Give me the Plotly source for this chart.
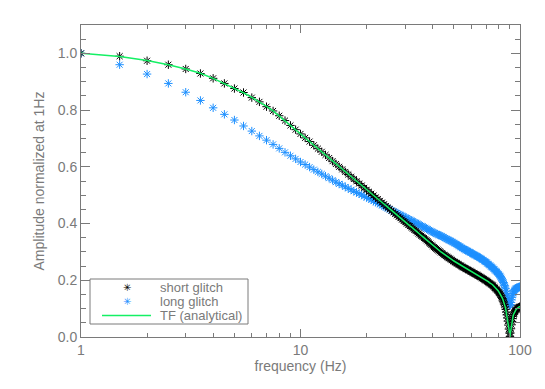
import plotly.graph_objects as go

# ---------------- data ----------------
freq_hz = [
    1.0, 1.5, 2.0, 2.5, 3.0, 3.5, 4.0, 4.5, 5.0, 5.5, 6.0, 6.5, 7.0, 7.5,
    8.0, 8.5, 9.0, 9.5, 10.0, 10.5, 11.0, 11.5, 12.0, 12.5, 13.0, 13.5, 14.0, 14.5,
    15.0, 15.5, 16.0, 16.5, 17.0, 17.5, 18.0, 18.5, 19.0, 19.5, 20.0, 20.5, 21.0, 21.5,
    22.0, 22.5, 23.0, 23.5, 24.0, 24.5, 25.0, 25.5, 26.0, 26.5, 27.0, 27.5, 28.0, 28.5,
    29.0, 29.5, 30.0, 30.5, 31.0, 31.5, 32.0, 32.5, 33.0, 33.5, 34.0, 34.5, 35.0,
    35.5, 36.0, 36.5, 37.0, 37.5, 38.0, 38.5, 39.0, 39.5, 40.0,
    40.5, 41.0, 41.5, 42.0, 42.5, 43.0, 43.5, 44.0, 44.5, 45.0,
    45.5, 46.0, 46.5, 47.0, 47.5, 48.0, 48.5, 49.0, 49.5, 50.0,
    50.5, 51.0, 51.5, 52.0, 52.5, 53.0, 53.5, 54.0, 54.5, 55.0,
    55.5, 56.0, 56.5, 57.0, 57.5, 58.0, 58.5, 59.0, 59.5, 60.0,
    60.5, 61.0, 61.5, 62.0, 62.5, 63.0, 63.5, 64.0, 64.5, 65.0,
    65.5, 66.0, 66.5, 67.0, 67.5, 68.0, 68.5, 69.0, 69.5, 70.0,
    70.5, 71.0, 71.5, 72.0, 72.5, 73.0, 73.5, 74.0, 74.5, 75.0,
    75.5, 76.0, 76.5, 77.0, 77.5, 78.0, 78.5, 79.0, 79.5, 80.0,
    80.5, 81.0, 81.5, 82.0, 82.5, 83.0, 83.5, 84.0, 84.5, 85.0,
    85.5, 86.0, 86.5, 87.0, 87.5, 88.0, 88.5, 89.0, 89.5, 90.0,
    90.5, 91.0, 91.5, 92.0, 92.5, 93.0, 93.5, 94.0, 94.5, 95.0,
    95.5, 96.0, 96.5, 97.0, 97.5, 98.0, 98.5, 99.0, 99.5, 100.0,
]

short_glitch = [
    1.000, 0.990, 0.974, 0.960, 0.945, 0.929, 0.912, 0.894, 0.876, 0.862, 0.844, 0.829, 0.812, 0.797,
    0.780, 0.763, 0.746, 0.731, 0.716, 0.702, 0.689, 0.676, 0.664, 0.653, 0.642, 0.631, 0.620, 0.610,
    0.600, 0.591, 0.582, 0.573, 0.565, 0.557, 0.549, 0.541, 0.534, 0.526, 0.519, 0.512, 0.505, 0.499,
    0.492, 0.486, 0.480, 0.474, 0.468, 0.462, 0.456, 0.451, 0.445, 0.440, 0.434, 0.429, 0.424, 0.419,
    0.414, 0.409, 0.405, 0.400, 0.395, 0.391, 0.387, 0.382, 0.378, 0.374, 0.369, 0.365, 0.361,
    0.357, 0.353, 0.349, 0.345, 0.341, 0.337, 0.333, 0.329, 0.325, 0.321,
    0.317, 0.314, 0.311, 0.308, 0.305, 0.302, 0.299, 0.296, 0.293, 0.290,
    0.288, 0.285, 0.283, 0.280, 0.278, 0.276, 0.273, 0.271, 0.268, 0.266,
    0.264, 0.262, 0.260, 0.258, 0.256, 0.254, 0.252, 0.250, 0.248, 0.246,
    0.244, 0.243, 0.241, 0.240, 0.238, 0.236, 0.235, 0.233, 0.232, 0.230,
    0.228, 0.227, 0.225, 0.224, 0.222, 0.221, 0.219, 0.218, 0.216, 0.215,
    0.213, 0.212, 0.210, 0.208, 0.207, 0.205, 0.204, 0.202, 0.200, 0.199,
    0.197, 0.196, 0.194, 0.192, 0.190, 0.189, 0.187, 0.185, 0.184, 0.182,
    0.180, 0.177, 0.175, 0.173, 0.170, 0.168, 0.166, 0.163, 0.161, 0.158,
    0.155, 0.152, 0.148, 0.145, 0.140, 0.136, 0.131, 0.126, 0.120, 0.114,
    0.106, 0.098, 0.088, 0.078, 0.067, 0.056, 0.042, 0.028, 0.014, 0.002,
    0.014, 0.029, 0.043, 0.055, 0.065, 0.073, 0.079, 0.084, 0.088, 0.091,
    0.094, 0.096, 0.098, 0.100, 0.102, 0.103, 0.104, 0.105, 0.106, 0.107,
]

long_glitch = [
    1.000, 0.960, 0.927, 0.894, 0.863, 0.834, 0.808, 0.785, 0.765, 0.744, 0.726, 0.709, 0.694, 0.679,
    0.665, 0.651, 0.639, 0.628, 0.617, 0.608, 0.599, 0.590, 0.582, 0.575, 0.567, 0.560, 0.553, 0.546,
    0.540, 0.535, 0.529, 0.524, 0.519, 0.514, 0.510, 0.505, 0.501, 0.496, 0.492, 0.488, 0.484, 0.479,
    0.475, 0.472, 0.468, 0.464, 0.460, 0.457, 0.453, 0.450, 0.446, 0.443, 0.440, 0.437, 0.434, 0.431,
    0.428, 0.425, 0.422, 0.419, 0.416, 0.414, 0.411, 0.408, 0.405, 0.403, 0.400, 0.398, 0.395,
    0.392, 0.390, 0.387, 0.385, 0.382, 0.380, 0.377, 0.375, 0.372, 0.370,
    0.368, 0.366, 0.364, 0.362, 0.360, 0.359, 0.357, 0.355, 0.353, 0.351,
    0.349, 0.347, 0.345, 0.343, 0.341, 0.340, 0.338, 0.336, 0.334, 0.332,
    0.330, 0.328, 0.326, 0.324, 0.322, 0.320, 0.318, 0.316, 0.314, 0.312,
    0.310, 0.309, 0.307, 0.306, 0.304, 0.302, 0.301, 0.299, 0.298, 0.296,
    0.294, 0.293, 0.291, 0.290, 0.288, 0.287, 0.285, 0.284, 0.282, 0.281,
    0.279, 0.278, 0.276, 0.274, 0.272, 0.271, 0.269, 0.267, 0.266, 0.264,
    0.262, 0.260, 0.258, 0.256, 0.254, 0.252, 0.250, 0.248, 0.246, 0.244,
    0.242, 0.240, 0.238, 0.235, 0.233, 0.231, 0.229, 0.226, 0.224, 0.222,
    0.219, 0.216, 0.213, 0.209, 0.205, 0.201, 0.197, 0.192, 0.187, 0.182,
    0.176, 0.170, 0.162, 0.154, 0.145, 0.136, 0.127, 0.119, 0.113, 0.110,
    0.114, 0.122, 0.131, 0.140, 0.148, 0.154, 0.159, 0.163, 0.166, 0.168,
    0.170, 0.171, 0.172, 0.173, 0.174, 0.175, 0.176, 0.176, 0.177, 0.177,
]

tf_analytical = [
    1.000, 0.989, 0.975, 0.960, 0.945, 0.930, 0.912, 0.894, 0.877, 0.861, 0.845, 0.829, 0.813, 0.797,
    0.779, 0.762, 0.746, 0.730, 0.716, 0.702, 0.689, 0.676, 0.664, 0.653, 0.642, 0.631, 0.621, 0.611,
    0.601, 0.592, 0.583, 0.574, 0.566, 0.558, 0.550, 0.542, 0.535, 0.527, 0.520, 0.513, 0.506, 0.500,
    0.493, 0.487, 0.481, 0.475, 0.469, 0.463, 0.457, 0.452, 0.446, 0.441, 0.435, 0.430, 0.425, 0.420,
    0.415, 0.410, 0.406, 0.401, 0.396, 0.392, 0.388, 0.383, 0.379, 0.375, 0.370, 0.366, 0.362,
    0.358, 0.354, 0.350, 0.346, 0.342, 0.338, 0.334, 0.330, 0.326, 0.322,
    0.319, 0.316, 0.313, 0.310, 0.307, 0.304, 0.301, 0.298, 0.295, 0.292,
    0.290, 0.287, 0.285, 0.282, 0.280, 0.278, 0.275, 0.273, 0.270, 0.268,
    0.266, 0.264, 0.262, 0.260, 0.258, 0.256, 0.254, 0.252, 0.250, 0.248,
    0.246, 0.245, 0.243, 0.242, 0.240, 0.238, 0.237, 0.235, 0.234, 0.232,
    0.230, 0.229, 0.227, 0.226, 0.224, 0.223, 0.221, 0.220, 0.218, 0.217,
    0.215, 0.214, 0.212, 0.210, 0.209, 0.207, 0.206, 0.204, 0.202, 0.201,
    0.199, 0.198, 0.196, 0.194, 0.192, 0.191, 0.189, 0.187, 0.186, 0.184,
    0.182, 0.179, 0.177, 0.175, 0.172, 0.170, 0.168, 0.165, 0.163, 0.160,
    0.157, 0.154, 0.150, 0.147, 0.142, 0.138, 0.133, 0.128, 0.122, 0.116,
    0.108, 0.100, 0.090, 0.080, 0.069, 0.058, 0.044, 0.030, 0.015, 0.000,
    0.015, 0.030, 0.044, 0.056, 0.066, 0.074, 0.080, 0.085, 0.089, 0.092,
    0.095, 0.097, 0.099, 0.101, 0.103, 0.104, 0.105, 0.106, 0.107, 0.108,
]

series_names = ["short glitch", "long glitch", "TF (analytical)"]
x_tick_vals = [1, 10, 100]
x_tick_text = ["1", "10", "100"]
x_minor_vals = [2, 3, 4, 5, 6, 7, 8, 9, 20, 30, 40, 50, 60, 70, 80, 90]
y_tick_vals = [0.0, 0.2, 0.4, 0.6, 0.8, 1.0]

# ---------------- styling ----------------
GRAY = "#7a7a7a"
BLACK = "#000000"
BLUE = "#1e90ff"
GREEN = "#14f064"
FONT = "Liberation Sans"

fig = go.Figure()

fig.add_trace(go.Scatter(
    x=freq_hz, y=long_glitch, mode="markers", name=series_names[1],
    marker=dict(symbol="asterisk-open", size=7, color=BLUE,
                line=dict(color=BLUE, width=1)),
    showlegend=False,
))
fig.add_trace(go.Scatter(
    x=freq_hz, y=short_glitch, mode="markers", name=series_names[0],
    marker=dict(symbol="asterisk-open", size=7, color=BLACK,
                line=dict(color=BLACK, width=1)),
    showlegend=False,
))
fig.add_trace(go.Scatter(
    x=freq_hz, y=tf_analytical, mode="lines", name=series_names[2],
    line=dict(color=GREEN, width=1.5),
    showlegend=False,
))

# The page body has an 8px margin, so the figure is drawn 8px right/down.
OFF = 8
W, H = 545, 389
# target plot area on screen: x 81..520, y 25..337
L, T = 81 - OFF, 25 - OFF
R = W - (520 - OFF)
B = H - (337 - OFF)
pw, ph = W - L - R, H - T - B


def px(xs):
    """screen x pixel -> paper fraction"""
    return (xs - OFF - L) / pw


def py(ys):
    """screen y pixel -> paper fraction"""
    return (H - B - (ys - OFF)) / ph


# manual compact legend (box, glyphs, labels)
shapes = [
    dict(type="rect", xref="paper", yref="paper",
         x0=px(90), x1=px(248), y0=py(324), y1=py(279),
         line=dict(color=GRAY, width=1), fillcolor="white", layer="above"),
    dict(type="line", xref="paper", yref="paper",
         x0=px(102), x1=px(151), y0=py(315.5), y1=py(315.5),
         line=dict(color=GREEN, width=1.5), layer="above"),
]
annotations = [
    dict(text="\u2733", xref="paper", yref="paper", x=px(127), y=py(287.5),
         showarrow=False, font=dict(family="DejaVu Sans", size=10, color=BLACK),
         xanchor="center", yanchor="middle"),
    dict(text="\u2733", xref="paper", yref="paper", x=px(127), y=py(301.5),
         showarrow=False, font=dict(family="DejaVu Sans", size=10, color=BLUE),
         xanchor="center", yanchor="middle"),
]
for lab, ypix in zip(series_names, [287.5, 301.5, 315.5]):
    annotations.append(dict(
        text=lab, xref="paper", yref="paper", x=px(158), y=py(ypix),
        showarrow=False, xanchor="left", yanchor="middle",
        font=dict(family=FONT, size=13, color=GRAY)))

axis_common = dict(
    showline=True, linecolor=GRAY, linewidth=1, mirror="allticks",
    ticks="inside", tickcolor=GRAY, tickwidth=1,
    showgrid=False, zeroline=False,
    tickfont=dict(family=FONT, size=14, color=GRAY),
)

fig.update_layout(
    width=W, height=H,
    margin=dict(l=L, r=R, t=T, b=B, autoexpand=False),
    paper_bgcolor="white", plot_bgcolor="white",
    font=dict(family=FONT, size=14, color=GRAY),
    xaxis=dict(
        type="log", range=[0, 2],
        tickmode="array", tickvals=x_tick_vals, ticktext=x_tick_text, ticklen=8,
        minor=dict(ticks="inside", ticklen=4, tickcolor=GRAY,
                   tickmode="array", tickvals=x_minor_vals),
        title=dict(text="frequency (Hz)", standoff=4,
                   font=dict(family=FONT, size=14, color=GRAY)),
        automargin=False,
        **axis_common,
    ),
    yaxis=dict(
        range=[0, 1.1],
        tickmode="array", tickvals=y_tick_vals, tickformat=".1f", ticklen=9,
        minor=dict(ticks="inside", ticklen=5, tickcolor=GRAY, dtick=0.05),
        title=dict(text="Amplitude normalized at 1Hz", standoff=9,
                   font=dict(family=FONT, size=14, color=GRAY)),
        automargin=False,
        **axis_common,
    ),
    shapes=shapes,
    annotations=annotations,
    showlegend=False,
)

fig.write_html("out.html")
